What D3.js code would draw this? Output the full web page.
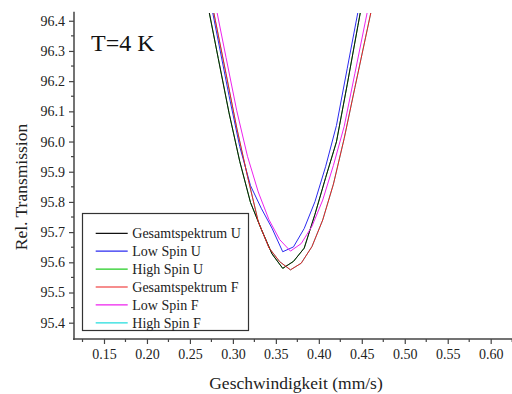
<!DOCTYPE html>
<html>
<head>
<meta charset="utf-8">
<script src="https://cdn.jsdelivr.net/npm/d3@7"></script>
<style>
  body { margin: 0; background: #fff; }
  svg { display: block; font-family: "Liberation Serif", "Times New Roman", serif; }
</style>
</head>
<body>
<div id="visual-container"></div>
<script>
// velocity grids (mm/s) of the two spectra
const gridU = [0.258, 0.2705, 0.283, 0.2955, 0.308, 0.3205, 0.333, 0.3455, 0.358, 0.3705, 0.383, 0.3955, 0.408, 0.4205, 0.433, 0.4455, 0.458]
const gridF = [0.2545, 0.267, 0.2795, 0.292, 0.3045, 0.317, 0.3295, 0.342, 0.3545, 0.367, 0.3795, 0.392, 0.4045, 0.417, 0.4295, 0.442, 0.4545, 0.467]

// relative transmission (%)
const gesamtU = [96.637, 96.456, 96.275, 96.095, 95.934, 95.798, 95.710, 95.628, 95.580, 95.603, 95.647, 95.759, 95.881, 95.999, 96.188, 96.384, 96.577]
const lowSpinU = [96.694, 96.513, 96.333, 96.152, 95.983, 95.854, 95.779, 95.713, 95.635, 95.651, 95.712, 95.801, 95.918, 96.053, 96.241, 96.429, 96.618]
const highSpinU = [96.637, 96.456, 96.275, 96.095, 95.934, 95.798, 95.710, 95.628, 95.580, 95.603, 95.647, 95.759, 95.881, 95.999, 96.188, 96.384, 96.577]
const gesamtF = [96.761, 96.582, 96.402, 96.225, 96.045, 95.885, 95.735, 95.648, 95.602, 95.575, 95.597, 95.652, 95.740, 95.859, 96.010, 96.179, 96.346, 96.513]
const lowSpinF = [96.814, 96.637, 96.457, 96.279, 96.102, 95.951, 95.833, 95.741, 95.675, 95.637, 95.662, 95.719, 95.806, 95.921, 96.050, 96.226, 96.402, 96.578]
const highSpinF = [96.761, 96.582, 96.402, 96.225, 96.045, 95.885, 95.735, 95.648, 95.602, 95.575, 95.597, 95.652, 95.740, 95.859, 96.010, 96.179, 96.346, 96.513]

const xTicks = [0.15, 0.20, 0.25, 0.30, 0.35, 0.40, 0.45, 0.50, 0.55, 0.60]
const yTicks = [95.4, 95.5, 95.6, 95.7, 95.8, 95.9, 96.0, 96.1, 96.2, 96.3, 96.4]

const series = [
    { name: 'Gesamtspektrum U', x: gridU, y: gesamtU, color: '#111111' },
    { name: 'Low Spin U', x: gridU, y: lowSpinU, color: '#2b2bf0' },
    { name: 'High Spin U', x: gridU, y: highSpinU, color: '#22cc22' },
    { name: 'Gesamtspektrum F', x: gridF, y: gesamtF, color: '#ee1c1c' },
    { name: 'Low Spin F', x: gridF, y: lowSpinF, color: '#ee22ee' },
    { name: 'High Spin F', x: gridF, y: highSpinF, color: '#22dddd' }
]
// hidden-under curves go first
const drawOrder = [2, 5, 0, 1, 3, 4]

const width = 512
const height = 394
const margin = { top: 11.7, right: 0, bottom: 55, left: 74 }
const axisColor = '#444'

const svg = d3.select('#visual-container')
    .append('svg')
    .attr('width', width)
    .attr('height', height)

const xScale = d3.scaleLinear()
    .domain([0.1151, 0.6248])
    .range([margin.left, width - margin.right])

const yScale = d3.scaleLinear()
    .domain([95.346, 96.43])
    .range([height - margin.bottom, margin.top])

svg.append('clipPath')
    .attr('id', 'plot-clip')
    .append('rect')
    .attr('x', margin.left)
    .attr('y', margin.top + 1.3)
    .attr('width', width - margin.left - margin.right)
    .attr('height', height - margin.bottom - margin.top - 1.3)

const line = d3.line()
    .x(d => xScale(d[0]))
    .y(d => yScale(d[1]))

const curves = svg.append('g').attr('clip-path', 'url(#plot-clip)')
drawOrder.forEach(i => {
    const s = series[i]
    curves.append('path')
        .datum(d3.zip(s.x, s.y))
        .attr('fill', 'none')
        .attr('stroke', s.color)
        .attr('stroke-width', 1)
        .attr('d', line)
})

// x axis: major + minor ticks
const xMinor = d3.range(0.125, 0.63, 0.05)
const xAxis = svg.append('g')
    .attr('transform', `translate(0,${height - margin.bottom})`)
xAxis.append('line')
    .attr('x1', margin.left - 1).attr('x2', width)
    .attr('stroke', axisColor).attr('stroke-width', 1.5)
xAxis.selectAll('.minor').data(xMinor).enter().append('line')
    .attr('x1', d => xScale(d)).attr('x2', d => xScale(d))
    .attr('y2', 3)
    .attr('stroke', axisColor).attr('stroke-width', 1.2)
xAxis.call(d3.axisBottom(xScale).tickValues(xTicks).tickFormat(d3.format('.2f')).tickSize(5).tickSizeOuter(0))
xAxis.select('.domain').remove()
xAxis.selectAll('.tick line').attr('stroke', axisColor).attr('stroke-width', 1.2)
xAxis.selectAll('.tick text')
    .attr('y', 10)
    .attr('font-family', '"Liberation Serif", "Times New Roman", serif')
    .attr('font-size', 14)
    .attr('fill', '#222')

// y axis
const yMinor = d3.range(95.45, 96.42, 0.1)
const yAxis = svg.append('g')
    .attr('transform', `translate(${margin.left},0)`)
yAxis.append('line')
    .attr('y1', margin.top).attr('y2', height - margin.bottom + 1)
    .attr('stroke', axisColor).attr('stroke-width', 1.5)
yAxis.selectAll('.minor').data(yMinor).enter().append('line')
    .attr('y1', d => yScale(d)).attr('y2', d => yScale(d))
    .attr('x2', -3)
    .attr('stroke', axisColor).attr('stroke-width', 1.2)
yAxis.call(d3.axisLeft(yScale).tickValues(yTicks).tickFormat(d3.format('.1f')).tickSize(5).tickSizeOuter(0))
yAxis.select('.domain').remove()
yAxis.selectAll('.tick line').attr('stroke', axisColor).attr('stroke-width', 1.2)
yAxis.selectAll('.tick text')
    .attr('x', -9)
    .attr('font-family', '"Liberation Serif", "Times New Roman", serif')
    .attr('font-size', 14)
    .attr('fill', '#222')

// axis titles
svg.append('text')
    .attr('x', 296)
    .attr('y', 389)
    .attr('text-anchor', 'middle')
    .attr('font-size', 17.5)
    .attr('fill', '#222')
    .text('Geschwindigkeit (mm/s)')

svg.append('text')
    .attr('transform', 'translate(27,187) rotate(-90)')
    .attr('text-anchor', 'middle')
    .attr('font-size', 17.5)
    .attr('fill', '#222')
    .text('Rel. Transmission')

svg.append('text')
    .attr('x', 91)
    .attr('y', 51)
    .attr('font-size', 24)
    .attr('fill', '#111')
    .text('T=4 K')

// legend
const legend = svg.append('g')
legend.append('rect')
    .attr('x', 82.5).attr('y', 213.5)
    .attr('width', 166).attr('height', 117)
    .attr('fill', '#fff')
    .attr('stroke', '#333').attr('stroke-width', 1.2)
const entry = legend.selectAll('.entry').data(series).enter().append('g')
    .attr('transform', (d, i) => `translate(0,${233.3 + i * 17.9})`)
entry.append('line')
    .attr('x1', 95.7).attr('x2', 127.7)
    .attr('stroke', d => d.color).attr('stroke-width', 1.2)
entry.append('text')
    .attr('x', 132.3)
    .attr('y', 5)
    .attr('font-size', 14)
    .attr('fill', '#222')
    .text(d => d.name)
</script>
</body>
</html>
